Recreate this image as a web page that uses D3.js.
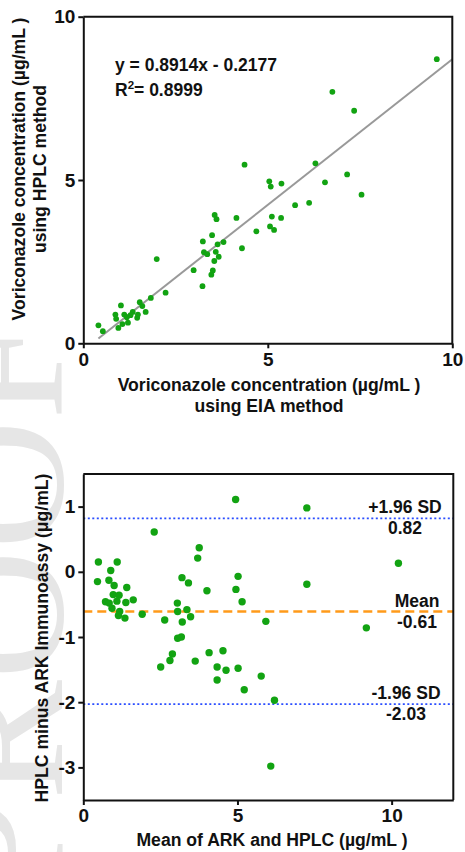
<!DOCTYPE html>
<html>
<head>
<meta charset="utf-8">
<script src="https://cdn.jsdelivr.net/npm/d3@7"></script>
<style>
  body { margin: 0; background: #fff; }
  text { font-family: "Liberation Sans", Arial, sans-serif; font-weight: bold; fill: #111; }
</style>
</head>
<body>
<div id="chart"></div>
<script>
// correlation plot: EIA vs HPLC
eiaConc = [9.58, 6.75, 7.34, 4.37, 6.29, 7.15, 5.04, 5.08, 5.37, 6.55, 7.54, 5.74, 6.12, 5.11, 5.36, 5.06, 5.17,
    3.56, 3.61, 4.15, 4.69, 3.49, 3.24, 3.64, 3.80, 4.30, 3.27, 3.36, 3.59, 3.67, 3.55, 2.99, 3.51, 3.47, 3.23, 1.99,
    0.41, 0.53, 1.02, 0.87, 0.89, 0.95, 1.06, 1.11, 1.18, 1.21, 1.28, 1.34, 1.46, 1.48, 1.53, 1.60, 1.69, 1.83, 2.23]
hplcConc = [8.70, 7.70, 7.12, 5.47, 5.51, 5.17, 4.96, 4.80, 4.89, 4.93, 4.55, 4.23, 4.30, 3.88, 3.84, 3.58, 3.47,
    3.93, 3.80, 3.84, 3.43, 3.31, 3.12, 3.03, 3.10, 2.91, 2.79, 2.73, 2.80, 2.65, 2.52, 2.24, 2.23, 2.10, 1.75, 2.58,
    0.55, 0.37, 1.16, 0.88, 0.75, 0.47, 0.59, 0.88, 0.80, 0.63, 0.86, 0.96, 0.78, 0.88, 1.26, 1.14, 0.96, 1.39, 1.55]
slope = 0.8914
intercept = -0.2177
r2 = "0.8999"
corrTicks = [0, 5, 10]

// Bland-Altman plot
baMean = [4.94, 7.25, 2.30, 3.76, 3.71, 0.49, 1.10, 10.22, 0.89, 0.46, 0.83, 1.00, 1.41, 3.20, 3.41, 4.01, 5.02, 4.95,
    7.25, 0.97, 1.16, 0.72, 0.84, 1.09, 1.38, 1.62, 0.93, 1.18, 1.14, 1.35, 1.91, 3.05, 3.06, 3.36, 3.48, 3.21, 2.64,
    5.15, 5.92, 9.18, 3.06, 3.18, 2.89, 2.81, 2.51, 3.63, 4.08, 4.53, 4.34, 4.63, 5.02, 4.34, 5.77, 5.22, 6.20, 6.08]
baDiff = [1.11, 0.98, 0.61, 0.37, 0.21, 0.15, 0.15, 0.13, 0.02, -0.15, -0.13, -0.21, -0.24, -0.09, -0.17, -0.29, -0.07, -0.27,
    -0.19, -0.35, -0.36, -0.46, -0.48, -0.45, -0.47, -0.43, -0.56, -0.61, -0.67, -0.71, -0.65, -0.48, -0.61, -0.58, -0.69, -0.77, -0.74,
    -0.46, -0.76, -0.86, -1.02, -1.00, -1.26, -1.36, -1.46, -1.37, -1.24, -1.21, -1.46, -1.51, -1.48, -1.66, -1.60, -1.81, -1.97, -2.98]
meanBias = -0.61
upperLoA = 0.82
lowerLoA = -2.03
baXTicks = [0, 5, 10]
baYTicks = [-3, -2, -1, 0, 1]

green = "#12a312"
titleSize = "17.6px"

svg = d3.select("#chart")
    .append("svg")
    .attr("width", 465)
    .attr("height", 852)

// faint watermark on the left edge
svg.append("text")
    .attr("transform", "translate(62,900) rotate(-90)")
    .style("font-family", "Liberation Serif, serif")
    .style("font-weight", "normal")
    .style("fill", "#e6e6e6")
    .style("font-size", "180px")
    .text("PROOF")

function drawAxes(g, x, y, xTicks, yTicks) {
    fmt = (d) => String(d)
    g.append("g")
        .attr("transform", "translate(0," + y.range()[0] + ")")
        .call(d3.axisBottom(x).tickValues(xTicks).tickFormat(fmt).tickSize(5).tickPadding(4).tickSizeOuter(0))
    g.append("g")
        .attr("transform", "translate(" + x.range()[0] + ",0)")
        .call(d3.axisLeft(y).tickValues(yTicks).tickFormat(fmt).tickSize(5).tickPadding(3).tickSizeOuter(0))
    g.selectAll(".tick text")
        .style("font-size", "19px")
        .style("font-family", "Liberation Sans, Arial, sans-serif")
        .style("font-weight", "bold")
        .style("fill", "#111")
    g.selectAll(".domain, .tick line").attr("stroke", "#111").attr("stroke-width", 2)
    // box
    g.append("path")
        .attr("fill", "none")
        .attr("stroke", "#111")
        .attr("stroke-width", 2)
        .attr("d", "M" + x.range()[0] + "," + y.range()[1] + "H" + x.range()[1] + "V" + y.range()[0])
}

// ---- top chart ----
xC = d3.scaleLinear().domain([0, 10]).range([83.3, 452.3])
yC = d3.scaleLinear().domain([0, 10]).range([343.3, 16.7])
topG = svg.append("g")

topG.append("line")
    .attr("x1", xC(d3.min(eiaConc)))
    .attr("y1", yC(slope * d3.min(eiaConc) + intercept))
    .attr("x2", xC(10))
    .attr("y2", yC(slope * 10 + intercept))
    .attr("stroke", "#999")
    .attr("stroke-width", 2)

topG.selectAll("circle")
    .data(eiaConc)
    .enter()
    .append("circle")
    .attr("cx", (d) => xC(d))
    .attr("cy", (d, i) => yC(hplcConc[i]))
    .attr("r", 2.9)
    .attr("fill", green)

drawAxes(topG, xC, yC, corrTicks, corrTicks)

topG.append("text")
    .attr("x", 115)
    .attr("y", 71)
    .style("font-size", "17.5px")
    .text("y = " + slope + "x - " + Math.abs(intercept))
r2text = topG.append("text")
    .attr("x", 115)
    .attr("y", 96)
    .style("font-size", "17.5px")
r2text.append("tspan").text("R")
r2text.append("tspan").attr("dy", -7).style("font-size", "11.5px").text("2")
r2text.append("tspan").attr("dy", 7).text("= " + r2)

topG.append("text")
    .attr("x", 269)
    .attr("y", 391)
    .attr("text-anchor", "middle")
    .style("font-size", titleSize)
    .text("Voriconazole concentration (µg/mL )")
topG.append("text")
    .attr("x", 269)
    .attr("y", 412)
    .attr("text-anchor", "middle")
    .style("font-size", titleSize)
    .text("using EIA method")
topG.append("text")
    .attr("transform", "translate(24.5,169) rotate(-90)")
    .attr("text-anchor", "middle")
    .style("font-size", titleSize)
    .text("Voriconazole concentration (µg/mL )")
topG.append("text")
    .attr("transform", "translate(45.5,169) rotate(-90)")
    .attr("text-anchor", "middle")
    .style("font-size", titleSize)
    .text("using HPLC method")

// ---- bottom chart ----
xB = d3.scaleLinear().domain([0, 12]).range([83.3, 453.3])
yB = d3.scaleLinear().domain([-3.5, 1.5]).range([800, 474])
bot = svg.append("g")

refLines = [
    { v: upperLoA, color: "#2a4dff", dash: "2,2.5", w: 1.8, label: "+1.96 SD", cx: 405 },
    { v: meanBias, color: "#ff9a1a", dash: "9,5", w: 2.5, label: "Mean", cx: 417 },
    { v: lowerLoA, color: "#2a4dff", dash: "2,2.5", w: 1.8, label: "-1.96 SD", cx: 406 }
]

bot.selectAll(".ref")
    .data(refLines)
    .enter()
    .append("line")
    .attr("class", "ref")
    .attr("x1", xB(0))
    .attr("x2", xB(12))
    .attr("y1", (e) => yB(e.v))
    .attr("y2", (e) => yB(e.v))
    .attr("stroke", (e) => e.color)
    .attr("stroke-width", (e) => e.w)
    .attr("stroke-dasharray", (e) => e.dash)

bot.selectAll(".ba")
    .data(baMean)
    .enter()
    .append("circle")
    .attr("class", "ba")
    .attr("cx", (d) => xB(d))
    .attr("cy", (d, i) => yB(baDiff[i]))
    .attr("r", 3.7)
    .attr("fill", green)

bot.selectAll(".reflab")
    .data(refLines)
    .enter()
    .append("text")
    .attr("class", "reflab")
    .attr("x", (e) => e.cx)
    .attr("y", (e) => yB(e.v) - 5)
    .attr("text-anchor", "middle")
    .style("font-size", "17.5px")
    .text((e) => e.label)

bot.selectAll(".refval")
    .data(refLines)
    .enter()
    .append("text")
    .attr("class", "refval")
    .attr("x", (e) => e.cx)
    .attr("y", (e) => yB(e.v) + 16)
    .attr("text-anchor", "middle")
    .style("font-size", "17.5px")
    .text((e) => e.v.toFixed(2))

drawAxes(bot, xB, yB, baXTicks, baYTicks)

bot.append("text")
    .attr("x", 272)
    .attr("y", 846)
    .attr("text-anchor", "middle")
    .style("font-size", titleSize)
    .text("Mean of ARK and HPLC (µg/mL )")
bot.append("text")
    .attr("transform", "translate(48,638) rotate(-90)")
    .attr("text-anchor", "middle")
    .style("font-size", titleSize)
    .text("HPLC minus ARK Immunoassy (μg/mL)")
</script>
</body>
</html>
